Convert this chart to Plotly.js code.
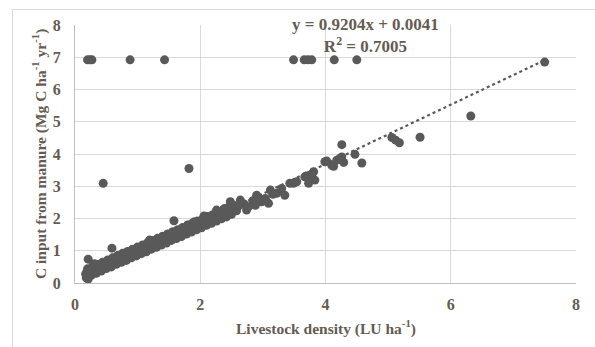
<!DOCTYPE html>
<html>
<head>
<meta charset="utf-8">
<script src="https://cdn.plot.ly/plotly-3.0.1.min.js"></script>
<style>
  html, body { margin: 0; padding: 0; background: #ffffff; overflow: hidden; }
  #frame { position: absolute; left: 12px; top: 9px; width: 640px; height: 400px; border: 1px solid #d9d9d9; box-sizing: border-box; pointer-events: none; }
  #chart { position: absolute; left: 0; top: 0; width: 595px; height: 347px; }
</style>
</head>
<body>
<div id="chart"></div>
<div id="frame"></div>
<script>
// ---- data ----
const bandLowX  = [0.18,0.26,0.34,0.42,0.50,0.58,0.66,0.74,0.82,0.90,0.98,1.06,1.14,1.22,1.30,1.38,1.46,1.54,1.62,1.70,1.78,1.86,1.94,2.02,2.10,2.18,2.26,2.34,2.42,2.50];
const bandLowY  = [0.16,0.24,0.30,0.37,0.45,0.50,0.58,0.64,0.70,0.78,0.84,0.91,0.97,1.05,1.11,1.18,1.24,1.32,1.38,1.44,1.52,1.58,1.65,1.71,1.79,1.85,1.92,1.99,2.05,2.13];
const bandMidX  = [0.22,0.30,0.38,0.46,0.54,0.62,0.70,0.78,0.86,0.94,1.02,1.10,1.18,1.26,1.34,1.42,1.50,1.58,1.66,1.74,1.82,1.90,1.98,2.06,2.14,2.22,2.30,2.38,2.46];
const bandMidY  = [0.32,0.39,0.46,0.53,0.59,0.66,0.73,0.80,0.86,0.93,1.00,1.06,1.13,1.20,1.27,1.33,1.40,1.47,1.53,1.60,1.67,1.74,1.80,1.87,1.94,2.00,2.07,2.14,2.21];
const bandHighX = [0.20,0.28,0.36,0.44,0.52,0.60,0.68,0.76,0.84,0.92,1.00,1.08,1.16,1.24,1.32,1.40,1.48,1.56,1.64,1.72,1.80,1.88,1.96,2.04,2.12,2.20,2.28,2.36,2.44,2.52];
const bandHighY = [0.44,0.51,0.57,0.64,0.71,0.78,0.85,0.92,0.98,1.05,1.12,1.18,1.25,1.32,1.39,1.45,1.52,1.59,1.65,1.72,1.79,1.86,1.92,1.99,2.06,2.12,2.20,2.26,2.33,2.40];
const bumpX     = [0.17,0.19,0.21,0.24,0.31,1.19,1.80,1.91,2.06,2.26,2.39];
const bumpY     = [0.28,0.35,0.12,0.30,0.60,1.33,1.80,1.90,2.08,2.26,2.31];
const chainX    = [2.48,2.53,2.58,2.62,2.64,2.70,2.74,2.77,2.84,2.88,2.90,2.95,2.98,3.04,3.09,3.12,3.16,3.22,3.30,3.35,3.43,3.49,3.54,3.67,3.73,3.75,3.81,3.83];
const chainY    = [2.52,2.41,2.24,2.40,2.57,2.45,2.26,2.36,2.55,2.41,2.72,2.62,2.52,2.62,2.47,2.88,2.75,2.78,2.93,2.72,3.09,3.09,3.14,3.29,3.09,3.34,3.45,3.19];
const highX     = [3.69,3.78,3.99,4.02,4.10,4.13,4.18,4.22,4.26,4.26,4.29,4.47,4.58,5.06,5.12,5.18,5.51,6.32,7.50];
const highY     = [3.32,3.37,3.76,3.78,3.65,3.62,3.81,3.85,4.29,3.91,3.74,3.99,3.72,4.51,4.43,4.35,4.52,5.18,6.85];
const capX      = [0.20,0.24,0.27,0.88,1.43,3.49,3.66,3.72,3.78,4.14,4.50];
const capY      = [6.92,6.92,6.92,6.92,6.92,6.92,6.92,6.92,6.92,6.92,6.92];
const strayX    = [0.21,0.45,0.59,1.58,1.82];
const strayY    = [0.74,3.09,1.08,1.93,3.55];
const trendX    = [0.17,7.50];
const trendY    = [0.16,6.91];
const eqText    = "y = 0.9204x + 0.0041";
const r2Text    = "R<sup>2</sup> = 0.7005";
const xTitle    = "Livestock density (LU ha<sup>-1</sup>)";
const yTitle    = "C input from manure (Mg C ha<sup>-1</sup> yr<sup>-1</sup>)";
const tickVals  = [0,2,4,6,8];
const yTickVals = [0,1,2,3,4,5,6,7,8];

const allX = [].concat(bandLowX, bandMidX, bandHighX, bumpX, chainX, highX, capX, strayX);
const allY = [].concat(bandLowY, bandMidY, bandHighY, bumpY, chainY, highY, capY, strayY);

const txtColor = '#655b52';
const fontFam = '"Liberation Serif", "DejaVu Serif", serif';

const traces = [
  { x: allX, y: allY, type: 'scatter', mode: 'markers',
    marker: { color: '#595959', size: 9, line: { width: 0 } },
    hoverinfo: 'skip', showlegend: false },
  { x: trendX, y: trendY, type: 'scatter', mode: 'lines',
    line: { color: '#595959', width: 2.2, dash: 'dot' },
    hoverinfo: 'skip', showlegend: false }
];

const layout = {
  width: 595, height: 347,
  margin: { l: 75, r: 19, t: 25, b: 64 },
  paper_bgcolor: 'rgba(0,0,0,0)', plot_bgcolor: '#ffffff',
  font: { family: fontFam, color: txtColor, size: 16 },
  showlegend: false,
  xaxis: { range: [0, 8], tickvals: tickVals, ticktext: tickVals.map(v => '<b>' + v + '</b>'),
           showgrid: true, gridcolor: '#d9d9d9', gridwidth: 1,
           zeroline: false, showline: true, linecolor: '#bfbfbf', linewidth: 1, ticks: '',
           ticklabelstandoff: 7,
           tickfont: { family: fontFam, color: txtColor, size: 16 } },
  yaxis: { range: [0, 8], tickvals: yTickVals, ticktext: yTickVals.map(v => '<b>' + v + '</b>'),
           showgrid: true, gridcolor: '#d9d9d9', gridwidth: 1,
           zeroline: false, showline: true, linecolor: '#bfbfbf', linewidth: 1, ticks: '',
           ticklabelstandoff: 10,
           tickfont: { family: fontFam, color: txtColor, size: 16 } },
  annotations: [
    { text: '<b>' + eqText + '<br>' + r2Text + '</b>', xref: 'x', yref: 'y', x: 4.64, y: 7.69,
      showarrow: false, align: 'center',
      xanchor: 'center', yanchor: 'middle', font: { family: fontFam, color: txtColor, size: 17 } },
    { text: '<b>' + xTitle + '</b>', xref: 'paper', yref: 'paper', x: 0.5, y: 0, yshift: -44,
      showarrow: false, xanchor: 'center', yanchor: 'middle', font: { family: fontFam, color: txtColor, size: 15.5 } },
    { text: '<b>' + yTitle + '</b>', xref: 'paper', yref: 'paper', x: 0, y: 0.5, xshift: -36,
      textangle: -90, showarrow: false, xanchor: 'center', yanchor: 'middle', font: { family: fontFam, color: txtColor, size: 15.5 } }
  ]
};

Plotly.newPlot('chart', traces, layout, { staticPlot: true, displayModeBar: false });
</script>
</body>
</html>
